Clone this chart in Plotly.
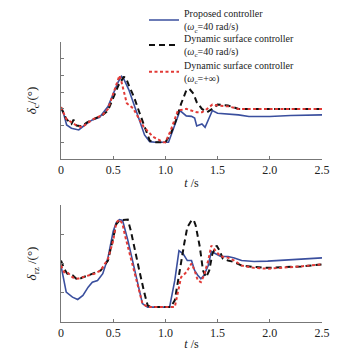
import plotly.graph_objects as go

# ---- data: top panel (delta_c) ----
t_top_blue = [0, 0.03, 0.054, 0.1, 0.17, 0.2, 0.25, 0.3, 0.37, 0.45, 0.5, 0.55, 0.58, 0.6, 0.65, 0.7, 0.75, 0.8, 0.85, 0.9, 1.03,
              1.1, 1.14, 1.2, 1.25, 1.28, 1.3, 1.33, 1.35, 1.38, 1.42, 1.45, 1.5, 1.6, 1.7, 1.8, 2.0, 2.2, 2.5]
y_top_blue = [3.1, 2.6, 2.04, 1.84, 1.74, 1.9, 2.14, 2.34, 2.5, 3.14, 3.9, 4.64, 4.94, 4.8, 4.14, 3.24, 2.34, 1.44, 1.04, 1.0, 1.0,
              2.14, 2.9, 2.58, 2.55, 2.45, 1.98, 2.05, 2.1, 1.9, 2.54, 2.9, 2.74, 2.7, 2.64, 2.54, 2.54, 2.6, 2.64]

t_top_black = [0, 0.05, 0.1, 0.12, 0.15, 0.2, 0.25, 0.3, 0.4, 0.45, 0.5, 0.55, 0.6, 0.62, 0.65, 0.7, 0.75, 0.8, 0.85, 0.9, 1.0,
               1.05, 1.1, 1.15, 1.2, 1.23, 1.27, 1.3, 1.35, 1.4, 1.45, 1.5, 1.6, 1.7, 2.5]
y_top_black = [3.1, 2.4, 2.1, 2.35, 2.0, 1.95, 2.2, 2.36, 2.64, 2.9, 3.7, 4.4, 4.9, 4.88, 4.4, 3.7, 2.8, 1.9, 1.1, 1.0, 1.0,
               1.5, 2.3, 3.3, 4.1, 4.2, 3.9, 3.4, 3.0, 2.8, 3.0, 3.26, 3.2, 3.0, 3.0]

t_top_red = [0, 0.05, 0.1, 0.15, 0.2, 0.25, 0.3, 0.4, 0.45, 0.5, 0.54, 0.56, 0.58, 0.63, 0.69, 0.79, 0.88, 0.98, 1.0,
             1.05, 1.12, 1.2, 1.3, 1.35, 1.4, 1.45, 1.5, 1.6, 1.7, 2.5]
y_top_red = [3.1, 2.4, 2.2, 2.0, 1.9, 2.15, 2.36, 2.64, 3.0, 3.9, 4.7, 5.0, 4.6, 3.34, 3.04, 1.94, 1.34, 1.0, 1.0,
             1.7, 2.9, 3.0, 2.8, 2.8, 3.0, 3.26, 3.2, 3.15, 3.0, 3.0]

# ---- data: bottom panel (delta_rz) ----
t_bot_blue = [0, 0.05, 0.11, 0.16, 0.21, 0.26, 0.30, 0.35, 0.40, 0.45, 0.50, 0.53, 0.56, 0.59, 0.64, 0.69, 0.74, 0.78, 0.83, 1.04,
              1.09, 1.13, 1.17, 1.21, 1.25, 1.28, 1.31, 1.34, 1.37, 1.41, 1.44, 1.49, 1.53, 1.6, 1.66, 1.73, 1.85, 1.98, 2.14, 2.3, 2.5]
y_bot_blue = [1.93, 1.02, 0.85, 0.77, 0.91, 1.19, 1.36, 1.42, 1.65, 2.2, 3.1, 3.4, 3.5, 3.47, 2.8, 2.0, 1.2, 0.63, 0.51, 0.51,
              1.42, 2.44, 2.33, 2.1, 2.1, 1.76, 1.6, 1.48, 1.6, 1.93, 2.41, 2.3, 2.24, 2.24, 2.19, 2.1, 2.07, 2.08, 2.12, 2.16, 2.19]

t_bot_black = [0, 0.03, 0.06, 0.11, 0.16, 0.21, 0.26, 0.38, 0.45, 0.5, 0.53, 0.56, 0.61, 0.64, 0.67, 0.70, 0.75, 0.80, 0.83, 0.86, 1.05,
               1.09, 1.12, 1.15, 1.18, 1.21, 1.25, 1.27, 1.29, 1.33, 1.36, 1.39, 1.42, 1.45, 1.49, 1.52, 1.55, 1.6, 1.66, 1.73, 1.79, 1.85, 1.98, 2.3, 2.5]
y_bot_black = [2.1, 1.82, 1.65, 1.6, 1.44, 1.53, 1.59, 1.76, 2.1, 2.9, 3.35, 3.47, 3.5, 3.5, 3.1, 2.56, 1.76, 0.97, 0.57, 0.51, 0.51,
               0.74, 1.42, 2.1, 2.67, 3.24, 3.47, 3.49, 3.3, 2.56, 1.76, 1.53, 1.76, 2.33, 2.61, 2.44, 2.16, 2.1, 2.05, 1.93, 1.9, 1.88, 1.85, 1.9, 1.97]

t_bot_red = [0, 0.03, 0.06, 0.11, 0.16, 0.21, 0.26, 0.32, 0.38, 0.45, 0.5, 0.53, 0.56, 0.59, 0.61, 0.64, 0.69, 0.74, 0.78, 0.83, 1.09,
             1.12, 1.15, 1.2, 1.25, 1.28, 1.31, 1.34, 1.37, 1.41, 1.44, 1.49, 1.53, 1.6, 1.66, 1.73, 1.85, 1.98, 2.14, 2.3, 2.5]
y_bot_red = [1.93, 1.7, 1.7, 1.53, 1.48, 1.53, 1.59, 1.65, 1.76, 2.16, 2.78, 3.4, 3.5, 3.35, 3.0, 2.56, 1.88, 1.19, 0.63, 0.51, 0.51,
             1.08, 1.53, 1.7, 2.0, 1.76, 1.42, 1.36, 1.6, 2.1, 2.61, 2.39, 2.24, 2.2, 2.1, 1.93, 1.85, 1.82, 1.85, 1.9, 1.97]

x_tickvals = [0, 0.5, 1.0, 1.5, 2.0, 2.5]
x_ticktext = ["0", "0.5", "1.0", "1.5", "2.0", "2.5"]

names = ["Proposed controller<br>(<i>ω</i><sub>c</sub>=40 rad/s)",
         "Dynamic surface controller<br>(<i>ω</i><sub>c</sub>=40 rad/s)",
         "Dynamic surface controller<br>(<i>ω</i><sub>c</sub>=+∞)"]

BLUE = "#3a4f9e"
BLACK = "#111111"
RED = "#e23a36"
FONT = "Liberation Serif, Times New Roman, serif"

fig = go.Figure()

styles = [dict(color=BLUE, width=1.6, dash="solid"),
          dict(color=BLACK, width=2, dash="6px,4px"),
          dict(color=RED, width=2, dash="3px,2.5px")]

top = [(t_top_blue, y_top_blue), (t_top_black, y_top_black), (t_top_red, y_top_red)]
bot = [(t_bot_blue, y_bot_blue), (t_bot_black, y_bot_black), (t_bot_red, y_bot_red)]
legend_ids = ["legend", "legend2", "legend3"]

for i, (tx, ty) in enumerate(top):
    fig.add_trace(go.Scatter(x=tx, y=ty, mode="lines", name=names[i], line=styles[i],
                             xaxis="x", yaxis="y", showlegend=True, legend=legend_ids[i]))
for i, (tx, ty) in enumerate(bot):
    fig.add_trace(go.Scatter(x=tx, y=ty, mode="lines", name=names[i], line=styles[i],
                             xaxis="x2", yaxis="y2", showlegend=False))

axis_common = dict(showline=True, linecolor="#777777", linewidth=1, ticks="inside", ticklen=3,
                   tickcolor="#777777", showgrid=False, zeroline=False, mirror=False)

legend_common = dict(x=0.318, xanchor="left", yanchor="top", bgcolor="rgba(0,0,0,0)",
                     font=dict(family=FONT, size=10, color="#222222"), itemwidth=30)

# the page adds an 8px body margin, so the figure is 8px smaller than the window
fig.update_layout(
    width=337, height=343,
    margin=dict(l=53, r=23, t=34, b=29, autoexpand=False),
    paper_bgcolor="white", plot_bgcolor="white",
    font=dict(family=FONT, size=12, color="#222222"),
    xaxis=dict(domain=[0, 1], anchor="y", range=[0, 2.5], tickvals=x_tickvals, ticktext=x_ticktext,
               title=dict(text="<i>t</i> /s", standoff=2, font=dict(size=12)), **axis_common),
    yaxis=dict(domain=[0.582, 1.0], anchor="x", range=[0, 7], tickvals=list(range(8)), showticklabels=False,
               title=dict(text="<i>δ</i><sub>c</sub>/(°)", standoff=20, font=dict(size=13)), **axis_common),
    xaxis2=dict(domain=[0, 1], anchor="y2", range=[0, 2.5], tickvals=x_tickvals, ticktext=x_ticktext,
                title=dict(text="<i>t</i> /s", standoff=2, font=dict(size=12)), **axis_common),
    yaxis2=dict(domain=[0, 0.418], anchor="x2", range=[0, 4], tickvals=list(range(5)), showticklabels=False,
                title=dict(text="<i>δ</i><sub>rz</sub> /(°)", standoff=20, font=dict(size=13)), **axis_common),
    legend=dict(y=1.148, **legend_common),
    legend2=dict(y=1.059, **legend_common),
    legend3=dict(y=0.963, **legend_common),
    showlegend=True,
)

fig.write_html("out.html")
